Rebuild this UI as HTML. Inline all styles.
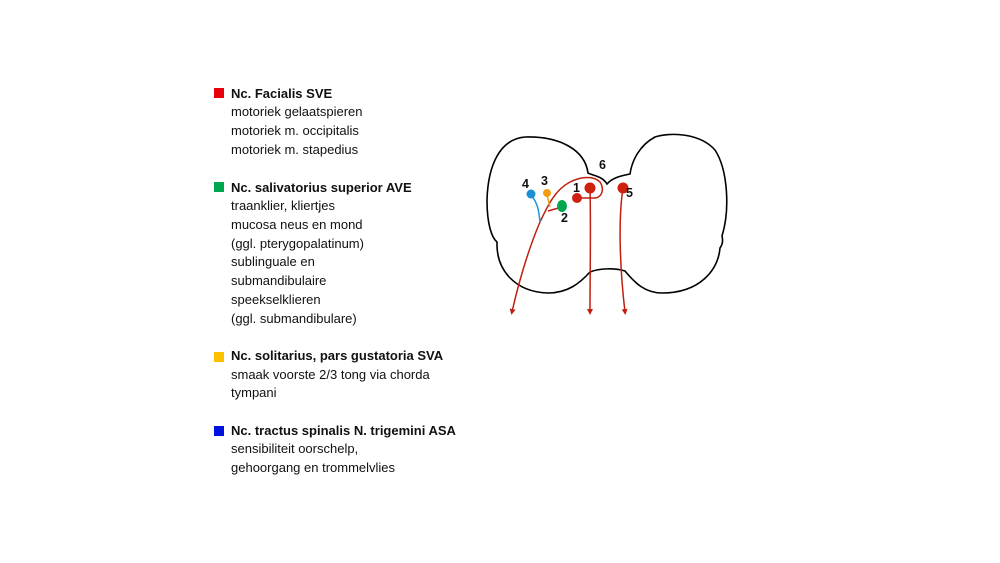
<!DOCTYPE html>
<html><head><meta charset="utf-8"><style>
html,body{margin:0;padding:0;background:#fff;}
svg{display:block;}
text{font-family:"Liberation Sans",sans-serif;fill:#111;}
.b{font-weight:bold;}
</style></head><body>
<svg width="1000" height="563" viewBox="0 0 1000 563" xmlns="http://www.w3.org/2000/svg">
<defs>
<marker id="ar" markerWidth="6" markerHeight="6" refX="3" refY="3" orient="auto" markerUnits="userSpaceOnUse">
<path d="M0,0 L6,3 L0,6 Z" fill="#c0200f"/></marker>
</defs>
<g font-size="13">
<rect x="214" y="88" width="10" height="10" fill="#e8000b"/>
<text x="231" y="98" class="b">Nc. Facialis SVE</text>
<text x="231" y="116">motoriek gelaatspieren</text>
<text x="231" y="135">motoriek m. occipitalis</text>
<text x="231" y="154">motoriek m. stapedius</text>
<rect x="214" y="182" width="10" height="10" fill="#00a650"/>
<text x="231" y="192" class="b">Nc. salivatorius superior AVE</text>
<text x="231" y="210">traanklier, kliertjes</text>
<text x="231" y="229">mucosa neus en mond</text>
<text x="231" y="248">(ggl. pterygopalatinum)</text>
<text x="231" y="266">sublinguale en</text>
<text x="231" y="285">submandibulaire</text>
<text x="231" y="304">speekselklieren</text>
<text x="231" y="323">(ggl. submandibulare)</text>
<rect x="214" y="352" width="10" height="10" fill="#ffc000"/>
<text x="231" y="360" class="b">Nc. solitarius, pars gustatoria SVA</text>
<text x="231" y="379">smaak voorste 2/3 tong via chorda</text>
<text x="231" y="397">tympani</text>
<rect x="214" y="426" width="10" height="10" fill="#0010e0"/>
<text x="231" y="435" class="b">Nc. tractus spinalis N. trigemini ASA</text>
<text x="231" y="453">sensibiliteit oorschelp,</text>
<text x="231" y="472">gehoorgang en trommelvlies</text>
</g>
<path d="M607,184 C602,176 594,176 588,173 C585,150 560,136 525,137 C500,139 488,165 487,200 C487,225 492,238 497,242 C496,270 515,292 548,293 C568,293 580,283 590,272 C600,268 615,268 625,271 C635,283 645,293 662,293 C700,293 718,270 720,248 C723,244 723,240 722,236 C730,210 728,170 715,150 C700,133 670,132 655,137 C640,145 632,160 630,174 C620,176 612,178 607,184 Z" fill="none" stroke="#000" stroke-width="1.6"/>
<g fill="none" stroke="#c0200f" stroke-width="1.5">
<path d="M577,198 L596,198 C603,196 604,188 600,182 C594,176 582,176 570,182 C555,190 548,205 540,222 C528,250 518,285 512,312" marker-end="url(#ar)"/>
<path d="M590,188 C591,230 590,270 590,312" marker-end="url(#ar)"/>
<path d="M623,188 C618,220 620,270 625,312" marker-end="url(#ar)"/>
<path d="M562,207 L548,211"/>
</g>
<path d="M531,195 C538,203 539,212 540,222" fill="none" stroke="#1a9ad6" stroke-width="1.5"/>
<path d="M547,195 L550,207" fill="none" stroke="#f39c12" stroke-width="1.5"/>
<circle cx="531" cy="194" r="4.5" fill="#1a8fd6"/>
<circle cx="547" cy="193" r="4" fill="#f39c12"/>
<ellipse cx="562" cy="206" rx="5" ry="6" fill="#00a650"/>
<circle cx="577" cy="198" r="5" fill="#d0200f"/>
<circle cx="590" cy="188" r="5.5" fill="#d0200f"/>
<circle cx="623" cy="188" r="5.5" fill="#d0200f"/>
<g font-size="12.5">
<text x="522" y="188" class="b">4</text>
<text x="541" y="185" class="b">3</text>
<text x="573" y="192" class="b">1</text>
<text x="561" y="222" class="b">2</text>
<text x="599" y="169" class="b">6</text>
<text x="626" y="197" class="b">5</text>
</g>
</svg>
</body></html>
